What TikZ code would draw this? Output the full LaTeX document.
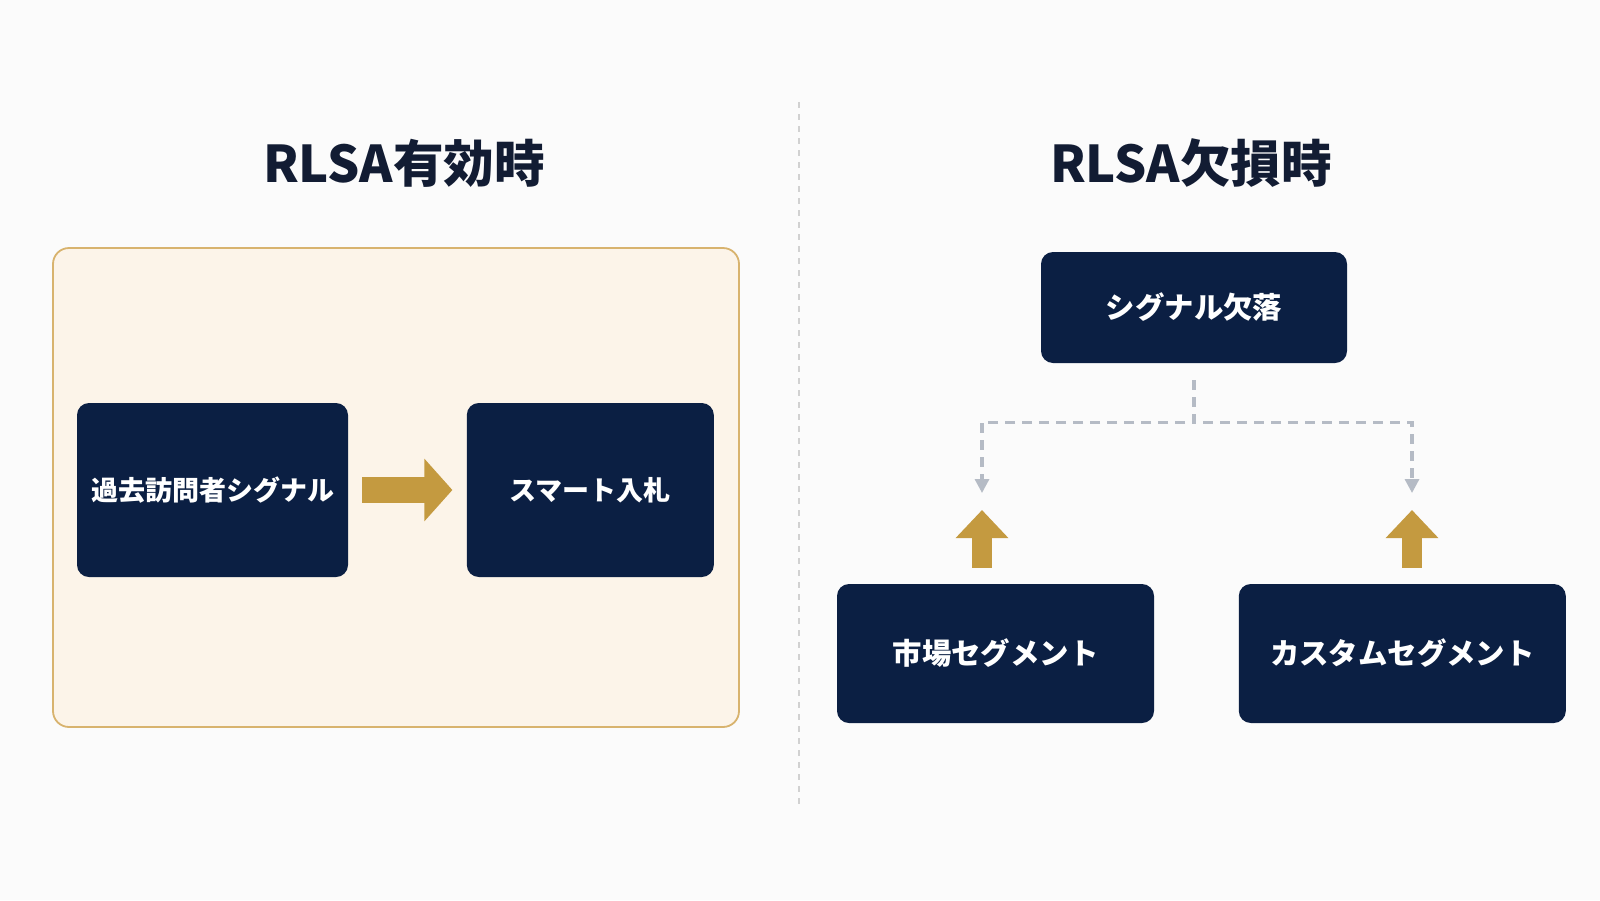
\documentclass[tikz,border=0pt]{standalone}
\usepackage{fontspec}
\setmainfont{Noto Sans CJK JP}
\usepackage{tikz}
\usetikzlibrary{arrows.meta,positioning}

\definecolor{navy}{HTML}{0B1F43}
\definecolor{gold}{HTML}{C49A40}
\definecolor{cream}{HTML}{FCF4E9}
\definecolor{creamline}{HTML}{D8B36E}
\definecolor{dashgray}{HTML}{B5BBC5}
\definecolor{ink}{HTML}{121C33}
\definecolor{bg}{HTML}{FBFBFB}

\begin{document}
\begin{tikzpicture}[
  x=0.5pt, y=-0.5pt,
  navybox/.style={rectangle, rounded corners=6pt, fill=navy, text=white, align=center, inner sep=0pt,
    font=\bfseries\fontsize{13.5}{16}\selectfont},
  bigtext/.style={font=\bfseries\fontsize{14.7}{18}\selectfont},
  title/.style={font=\bfseries\fontsize{25.3}{30}\selectfont, text=ink},
  goldarrow/.style={draw=gold, line width=13pt, -{Triangle[length=14pt, width=30.5pt]}},
  uparrow/.style={draw=gold, line width=10pt, -{Triangle[length=14pt, width=25.5pt]}},
  dashline/.style={draw=dashgray, line width=1.6pt, dash pattern=on 5pt off 3.5pt, -{Triangle[length=7pt, width=7pt]}},
  divider/.style={draw=black!18, line width=0.6pt, dash pattern=on 3pt off 3pt}
]

\fill[bg] (0,0) rectangle (1600,900);
\useasboundingbox (0,0) rectangle (1600,900);

% left half
\node[title] (ontitle) at (404,163) {RLSA有効時};
\draw[creamline, fill=cream, line width=0.9pt, rounded corners=8pt] (53,248) rectangle (739,727);

\node[navybox, minimum width=135.5pt, minimum height=87pt] (visit) at (212.5,490) {過去訪問者シグナル};
\node[navybox, minimum width=123.5pt, minimum height=87pt, right=59pt of visit] (smart) {スマート入札};
\draw[goldarrow, shorten <=7pt, shorten >=7pt] (visit) -- (smart);

% divider
\draw[divider] (799,102) -- (799,804);

% right half
\node[title] (offtitle) at (1191,163) {RLSA欠損時};
\node[navybox, bigtext, minimum width=153pt, minimum height=55.5pt] (loss) at (1194,307.5) {シグナル欠落};

\node[navybox, bigtext, minimum width=158.5pt, minimum height=69.5pt] (market) at (995.5,653.5) {市場セグメント};
\node[navybox, bigtext, minimum width=163.5pt, minimum height=69.5pt, right=42pt of market] (custom) {カスタムセグメント};

\coordinate (mtip) at (982,493);
\coordinate (ctip) at (1412,493);

\draw[dashline] ([yshift=-8.5pt]loss.south) -- ++(0,42) -| (mtip);
\draw[dashline] ([yshift=-8.5pt]loss.south) -- ++(0,42) -| (ctip);

\draw[uparrow, shorten <=8pt, shorten >=8.5pt] (market.north -| mtip) -- (mtip);
\draw[uparrow, shorten <=8pt, shorten >=8.5pt] (custom.north -| ctip) -- (ctip);

\end{tikzpicture}
\end{document}
